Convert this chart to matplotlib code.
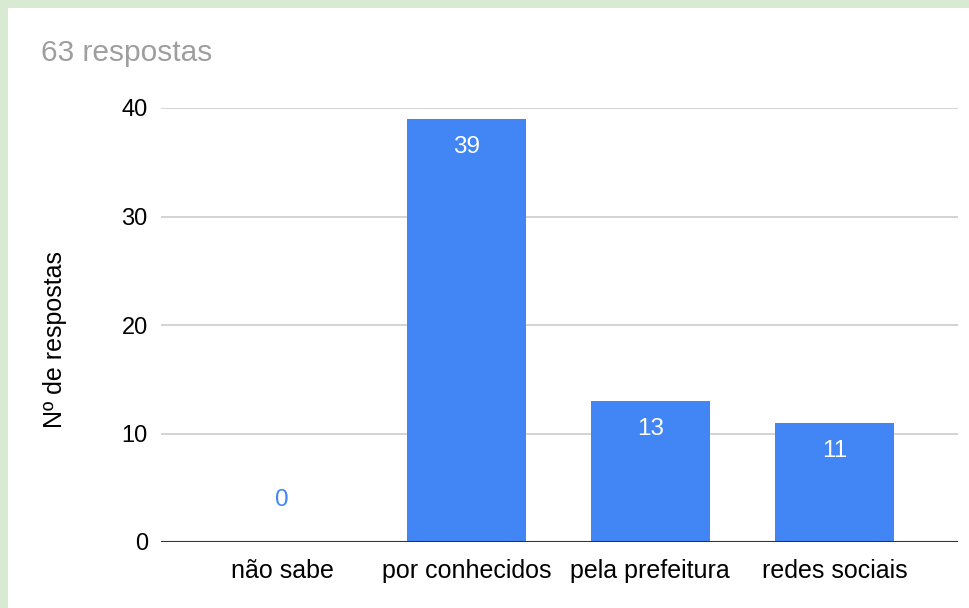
import matplotlib.pyplot as plt
from matplotlib.patches import Rectangle

categories = ['não sabe', 'por conhecidos', 'pela prefeitura', 'redes sociais']
values = [0, 39, 13, 11]
yticks = [0, 10, 20, 30, 40]

plt.rcParams['font.family'] = ['Liberation Sans', 'DejaVu Sans']

blue = '#4285f4'
fig = plt.figure(figsize=(9.7, 6.08), dpi=100, facecolor='#d9ead3')
# white card inside the green frame
fig.patches.append(Rectangle((8 / 970, 0), 1, 1 - 8 / 608, transform=fig.transFigure,
                             facecolor='white', edgecolor='none', zorder=-10))

ax = fig.add_axes([161 / 970, 66 / 608, 797 / 970, 434 / 608])
ax.set_facecolor('none')

x = range(len(categories))
bars = ax.bar(x, values, width=0.647, color=blue, zorder=3)

for xi, v in zip(x, values):
    if v > 0:
        ax.text(xi, v - 2.6, str(v), ha='center', va='center', color='white', fontsize=17.5)
    else:
        ax.text(xi, v + 3.9, str(v), ha='center', va='center', color=blue, fontsize=17.5)

ax.set_xlim(-0.659, 3.672)
ax.set_ylim(0, 40)
ax.set_yticks(yticks)
ax.set_xticks(list(x))
ax.set_xticklabels(categories, fontsize=18)
ax.tick_params(axis='y', labelsize=17, length=0, pad=9.5)
ax.tick_params(axis='x', length=0, pad=12)
ax.grid(axis='y', color='#cccccc', linewidth=1.2, zorder=0)
ax.axhline(0, color='#333333', linewidth=1.5, zorder=4)
for s in ax.spines.values():
    s.set_visible(False)

fig.text(55 / 970, 1 - 339 / 608, 'Nº de respostas', fontsize=18, rotation=90,
         ha='center', va='center')
fig.text(41 / 970, 1 - 53 / 608, '63 respostas', fontsize=21.5, color='#9e9e9e',
         ha='left', va='center')

fig.savefig('out.png', dpi=100, facecolor=fig.get_facecolor())
